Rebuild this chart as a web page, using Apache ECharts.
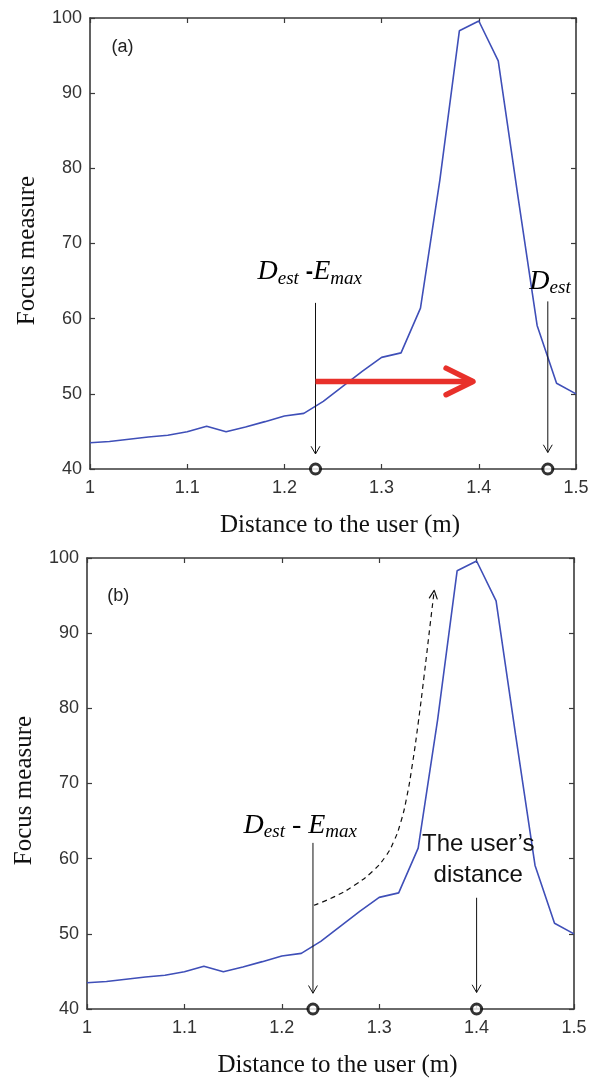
<!DOCTYPE html>
<html>
<head>
<meta charset="utf-8">
<script src="https://cdn.jsdelivr.net/npm/echarts@6/dist/echarts.min.js"></script>
<style>
  html, body { margin: 0; padding: 0; background: #fff; }
  #chart { width: 598px; height: 1081px; }
</style>
</head>
<body>
<div id="chart"></div>
<script>
// Focus measure sampled every 2 cm between 1.0 m and 1.5 m
const distance = [1.00, 1.02, 1.04, 1.06, 1.08, 1.10, 1.12, 1.14, 1.16, 1.18, 1.20, 1.22, 1.24,
                  1.26, 1.28, 1.30, 1.32, 1.34, 1.36, 1.38, 1.40, 1.42, 1.44, 1.46, 1.48, 1.50];
const focusMeasure = [43.5, 43.65, 43.95, 44.25, 44.5, 44.95, 45.7, 44.95, 45.6, 46.3, 47.05, 47.4, 49.0,
                      51.0, 53.0, 54.85, 55.45, 61.4, 78.5, 98.3, 99.6, 94.3, 76.5, 59.1, 51.4, 50.0];

// Marked distances on the x axis
const markedA = [1.232, 1.471];   // D_est - E_max, D_est
const markedB = [1.232, 1.400];   // D_est - E_max, user's distance

// Pointer arrows [x from, y from, x to, y to]
const pointersA = [[1.232, 62.1, 1.232, 42.0], [1.471, 62.3, 1.471, 42.2]];
const searchArrowA = [[1.232, 51.65, 1.394, 51.65]];
const pointersB = [[1.232, 62.1, 1.232, 42.1], [1.400, 54.8, 1.400, 42.2]];

// Search path sketched above the curve in panel (b)
const searchPathX = [1.233, 1.255, 1.275, 1.293, 1.306, 1.315, 1.322, 1.328, 1.334, 1.340, 1.346, 1.352, 1.3565];
const searchPathY = [53.8, 55.0, 56.5, 58.3, 60.2, 62.3, 64.8, 68.0, 72.5, 78.0, 84.2, 90.8, 95.7];

// Annotation texts and their anchor points
const textsA = ['(a)', '{v|D}{s|est}{v| }{d|-}{v|E}{s|max}', '{v|D}{s|est}'];
const textPosA = [[1.0335, 96.2], [1.1723, 66.2], [1.452, 64.97]];
const textsB = ['(b)', '{v|D}{s|est}{v| - E}{s|max}', 'The user\u2019s\ndistance'];
const textPosB = [[1.032, 94.9], [1.1608, 64.4], [1.4017, 59.8]];

const xTitle = 'Distance to the user (m)';
const yTitle = 'Focus measure';

const serif = '"Liberation Serif", "Times New Roman", serif';
const sans = '"Liberation Sans", Arial, Helvetica, sans-serif';
const frameColor = '#3a3a3a';
const curveColor = '#3f4fb8';
const red = '#e8302a';

const mathRich = {
  v: { fontFamily: serif, fontStyle: 'italic', fontSize: 28, lineHeight: 32, color: '#111' },
  s: { fontFamily: serif, fontStyle: 'italic', fontSize: 19, lineHeight: 12, verticalAlign: 'bottom', color: '#111' },
  d: { fontFamily: sans, fontWeight: 'bold', fontSize: 22, lineHeight: 32, color: '#111' }
};

function xAxisDef(gridIndex, position, main) {
  return {
    type: 'value', gridIndex: gridIndex, position: position,
    min: 1, max: 1.5, interval: 0.1,
    axisLine: { show: true, onZero: false, lineStyle: { color: frameColor, width: 1.6 } },
    axisTick: { show: true, inside: true, length: 5, lineStyle: { color: frameColor, width: 1.2 } },
    splitLine: { show: false },
    axisLabel: main ? { show: true, margin: 10, fontFamily: sans, fontSize: 18, color: '#333' } : { show: false },
    name: main ? xTitle : '',
    nameLocation: 'middle', nameGap: 44,
    nameTextStyle: { fontFamily: serif, fontSize: 25, color: '#111', padding: [0, 0, 0, 14] }
  };
}
function yAxisDef(gridIndex, position, main) {
  return {
    type: 'value', gridIndex: gridIndex, position: position,
    min: 40, max: 100, interval: 10,
    axisLine: { show: true, onZero: false, lineStyle: { color: frameColor, width: 1.6 } },
    axisTick: { show: true, inside: true, length: 5, lineStyle: { color: frameColor, width: 1.2 } },
    splitLine: { show: false },
    axisLabel: main ? { show: true, margin: 8, fontFamily: sans, fontSize: 18, color: '#333' } : { show: false },
    name: main ? yTitle : '',
    nameLocation: 'middle', nameGap: 50,
    nameTextStyle: { fontFamily: serif, fontSize: 25, color: '#111', padding: [0, 14, 0, 0] }
  };
}

function pairs(xs, ys) { return xs.map(function (x, i) { return [x, ys[i]]; }); }

// Arrow with an open chevron head; shaft can be omitted to draw just the head
function arrowRenderer(color, width, headLen, headAngle, shaft) {
  return function (params, api) {
    const p0 = api.coord([api.value(0), api.value(1)]);
    const p1 = api.coord([api.value(2), api.value(3)]);
    const ang = Math.atan2(p1[1] - p0[1], p1[0] - p0[0]);
    const a1 = ang + Math.PI - headAngle, a2 = ang + Math.PI + headAngle;
    const children = [];
    if (shaft) {
      children.push({ type: 'line', shape: { x1: p0[0], y1: p0[1], x2: p1[0], y2: p1[1] },
        style: { stroke: color, lineWidth: width, lineCap: 'butt' } });
    }
    children.push({ type: 'polyline', shape: { points: [
        [p1[0] + headLen * Math.cos(a1), p1[1] + headLen * Math.sin(a1)], p1,
        [p1[0] + headLen * Math.cos(a2), p1[1] + headLen * Math.sin(a2)]] },
      style: { stroke: color, fill: null, lineWidth: width, lineJoin: 'round', lineCap: 'round' } });
    return { type: 'group', children: children };
  };
}

function textRenderer(texts) {
  return function (params, api) {
    const p = api.coord([api.value(0), api.value(1)]);
    const i = params.dataIndex;
    if (i === 0) {
      return { type: 'text', x: p[0], y: p[1], style: { text: texts[i], font: '18px ' + sans,
        fill: '#222', align: 'center', verticalAlign: 'middle' } };
    }
    if (texts[i].indexOf('{') === 0) {
      return { type: 'text', x: p[0], y: p[1], style: { text: texts[i], rich: mathRich,
        align: 'left', verticalAlign: 'middle' } };
    }
    return { type: 'text', x: p[0], y: p[1], style: { text: texts[i], font: '24px ' + sans,
      lineHeight: 31, fill: '#111', align: 'center', verticalAlign: 'middle' } };
  };
}

function markerSeries(xi, yi, xs) {
  return {
    type: 'scatter', xAxisIndex: xi, yAxisIndex: yi, clip: false, z: 10,
    symbol: 'circle', symbolSize: 10,
    itemStyle: { color: '#fff', borderColor: '#000', borderWidth: 3 },
    data: xs.map(function (x) { return [x, 40]; })
  };
}

const option = {
  animation: false,
  backgroundColor: '#fff',
  grid: [
    { left: 90, right: 22, top: 18, height: 451 },
    { left: 87, right: 24, top: 558, height: 451 }
  ],
  xAxis: [xAxisDef(0, 'bottom', true), xAxisDef(0, 'top', false),
          xAxisDef(1, 'bottom', true), xAxisDef(1, 'top', false)],
  yAxis: [yAxisDef(0, 'left', true), yAxisDef(0, 'right', false),
          yAxisDef(1, 'left', true), yAxisDef(1, 'right', false)],
  series: [
    { type: 'line', xAxisIndex: 0, yAxisIndex: 0, data: pairs(distance, focusMeasure),
      symbol: 'none', lineStyle: { color: curveColor, width: 1.6 }, z: 3 },
    { type: 'line', xAxisIndex: 2, yAxisIndex: 2, data: pairs(distance, focusMeasure),
      symbol: 'none', lineStyle: { color: curveColor, width: 1.6 }, z: 3 },

    { type: 'custom', xAxisIndex: 0, yAxisIndex: 0, clip: false, z: 5,
      renderItem: arrowRenderer('#111', 1, 8.5, Math.PI / 6, true), data: pointersA },
    { type: 'custom', xAxisIndex: 0, yAxisIndex: 0, clip: false, z: 6,
      renderItem: arrowRenderer(red, 5.5, 30, 0.46, true), data: searchArrowA },
    { type: 'custom', xAxisIndex: 2, yAxisIndex: 2, clip: false, z: 5,
      renderItem: arrowRenderer('#111', 1, 8.5, Math.PI / 6, true), data: pointersB },

    { type: 'line', xAxisIndex: 2, yAxisIndex: 2, data: pairs(searchPathX, searchPathY),
      symbol: 'none', smooth: 0.5,
      lineStyle: { color: '#111', width: 1.2, type: [5, 4] }, z: 4 },
    { type: 'custom', xAxisIndex: 2, yAxisIndex: 2, clip: false, z: 5,
      renderItem: arrowRenderer('#111', 1.2, 9, 0.45, false),
      data: [[searchPathX[searchPathX.length - 2], searchPathY[searchPathY.length - 2],
              searchPathX[searchPathX.length - 1], searchPathY[searchPathY.length - 1]]] },

    markerSeries(0, 0, markedA),
    markerSeries(2, 2, markedB),

    { type: 'custom', xAxisIndex: 0, yAxisIndex: 0, clip: false, z: 8,
      renderItem: textRenderer(textsA), data: textPosA },
    { type: 'custom', xAxisIndex: 2, yAxisIndex: 2, clip: false, z: 8,
      renderItem: textRenderer(textsB), data: textPosB }
  ]
};

const chart = echarts.init(document.getElementById('chart'));
chart.setOption(option);
</script>
</body>
</html>
